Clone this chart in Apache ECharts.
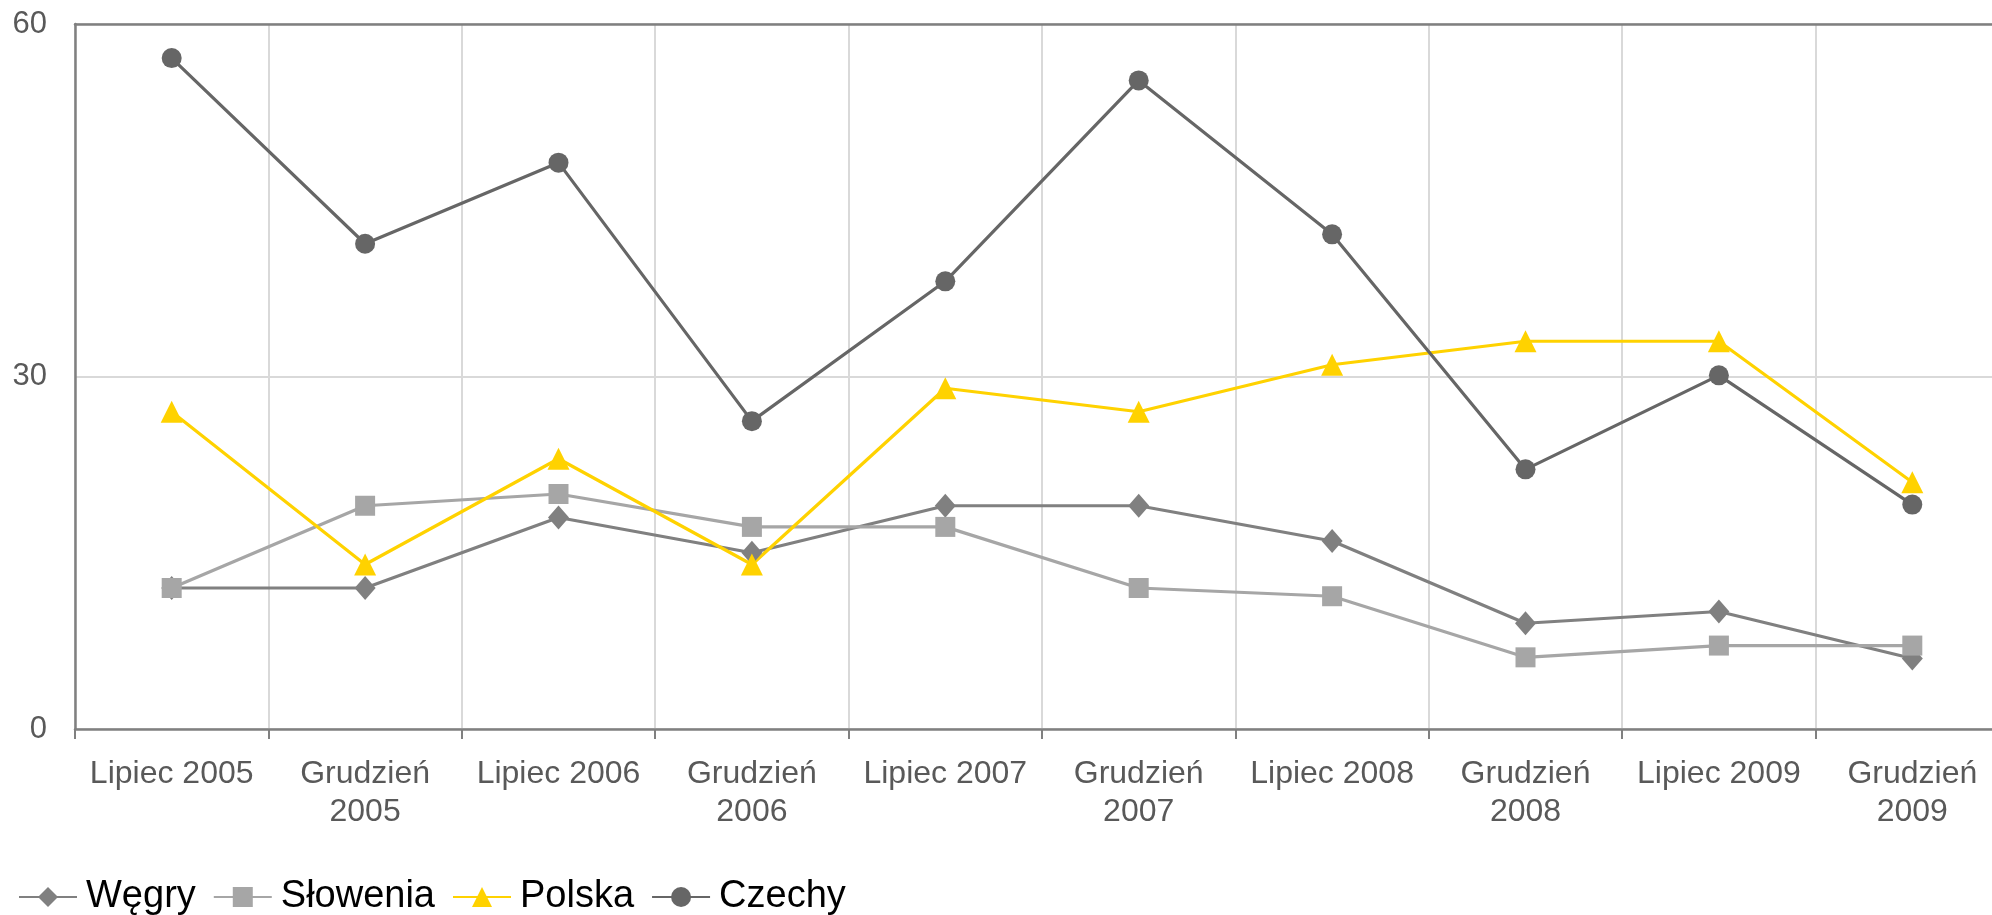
<!DOCTYPE html>
<html>
<head>
<meta charset="utf-8">
<script src="https://cdn.jsdelivr.net/npm/echarts@6/dist/echarts.min.js"></script>
<style>
html,body{margin:0;padding:0;background:#fff;overflow:hidden;}
#c{width:2009px;height:915px;}
</style>
</head>
<body>
<div id="c"></div>
<script>
const categories = ["Lipiec 2005", "Grudzień\n2005", "Lipiec 2006", "Grudzień\n2006", "Lipiec 2007", "Grudzień\n2007", "Lipiec 2008", "Grudzień\n2008", "Lipiec 2009", "Grudzień\n2009"];
const wegry    = [12, 12, 18, 15, 19, 19, 16, 9, 10, 6];
const slowenia = [12, 19, 20, 17.2, 17.2, 12, 11.3, 6.1, 7.1, 7.1];
const polska   = [27, 14, 23, 14, 29, 27, 31, 33, 33, 21];
const czechy   = [57.1, 41.3, 48.2, 26.2, 38.1, 55.2, 42.1, 22.1, 30.1, 19.1];
const yTicks = { min: 0, max: 60, interval: 30 };

const FONT = '"Liberation Sans", Arial, sans-serif';
const chart = echarts.init(document.getElementById('c'));

function mk(name, data, color, symbol, size) {
  return {
    name, type: 'line', data, xAxisIndex: 0,
    symbol, symbolSize: size,
    lineStyle: { color, width: 3.2 },
    itemStyle: { color },
    animation: false
  };
}

chart.setOption({
  animation: false,
  grid: { left: 75, right: 0, top: 24, bottom: 186, containLabel: false },
  legend: {
    left: 18, top: 878, padding: 0,
    itemWidth: 58, itemHeight: 25, itemGap: 17,
    textStyle: { fontFamily: FONT, fontSize: 38, color: '#000', padding: [0, 0, 0, 4] },
    data: ['Węgry', 'Słowenia', 'Polska', 'Czechy']
  },
  xAxis: [{
    type: 'category', data: categories, boundaryGap: true, position: 'bottom',
    axisLine: { lineStyle: { color: '#808080', width: 2.5 } },
    axisTick: { show: true, length: 10, alignWithLabel: false, interval: 0, lineStyle: { color: '#808080', width: 2 } },
    axisLabel: { interval: 0, margin: 26, color: '#595959', fontFamily: FONT, fontSize: 32, lineHeight: 38 },
    splitLine: { show: true, interval: 0, lineStyle: { color: '#d9d9d9', width: 2 } }
  }, {
    type: 'category', data: categories, boundaryGap: true, position: 'top',
    axisLine: { show: true, lineStyle: { color: '#808080', width: 2.5 } },
    axisTick: { show: false }, axisLabel: { show: false }, splitLine: { show: false }
  }],
  yAxis: {
    type: 'value', min: yTicks.min, max: yTicks.max, interval: yTicks.interval,
    axisLine: { show: true, lineStyle: { color: '#808080', width: 2.5 } },
    axisTick: { show: false },
    axisLabel: { margin: 28, color: '#595959', fontFamily: FONT, fontSize: 31 },
    splitLine: { show: true, lineStyle: { color: '#d9d9d9', width: 2 } }
  },
  series: [
    mk('Węgry', wegry, '#808080', 'diamond', [21, 24]),
    mk('Słowenia', slowenia, '#a6a6a6', 'rect', 20),
    mk('Polska', polska, '#ffd200', 'triangle', 22),
    mk('Czechy', czechy, '#666666', 'circle', 20)
  ]
});
</script>
</body>
</html>
